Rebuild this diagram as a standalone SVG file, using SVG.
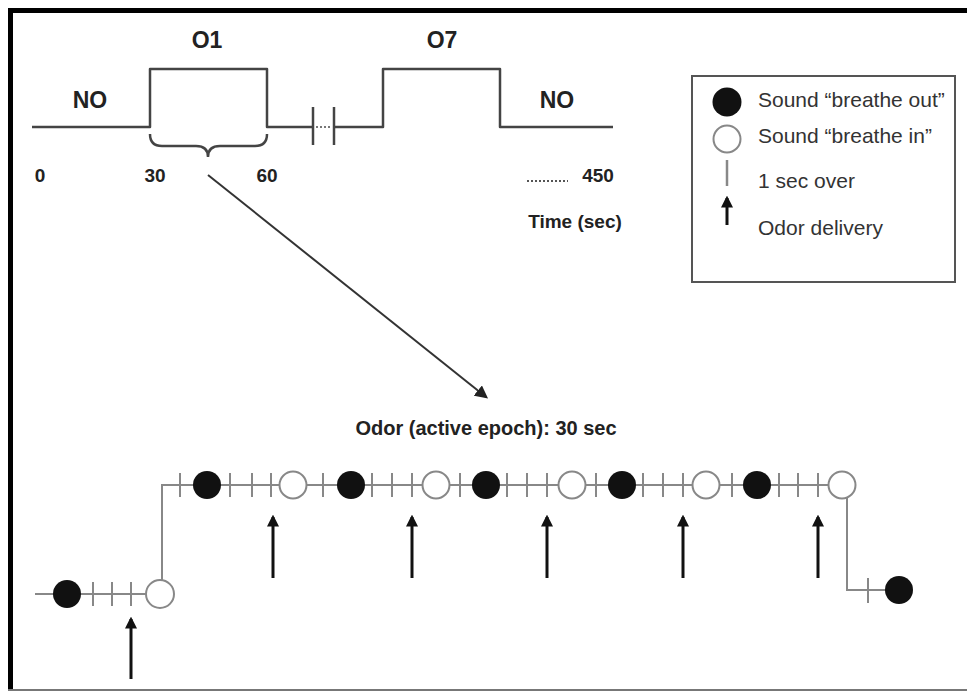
<svg xmlns="http://www.w3.org/2000/svg" width="967" height="692" viewBox="0 0 967 692">
<style>
.bold{font-family:"Liberation Sans",Arial,sans-serif;font-weight:bold;fill:#222}
.reg{font-family:"Liberation Sans",Arial,sans-serif;fill:#333;font-size:21px}
.tl{fill:none;stroke:#444;stroke-width:2.5;stroke-linejoin:round}
.row{fill:none;stroke:#888;stroke-width:2}
.tick{stroke:#888;stroke-width:2}
.fc{fill:#111}
.oc{fill:#fff;stroke:#888;stroke-width:2}
.arr{stroke:#111;stroke-width:3;marker-end:url(#ah)}
</style>
<defs>
<marker id="ah" viewBox="0 0 10 10" refX="8" refY="5" markerWidth="4" markerHeight="4" orient="auto" markerUnits="strokeWidth">
<path d="M0,0 L10,5 L0,10 z" fill="#111"/>
</marker>
<marker id="ah2" viewBox="0 0 10 10" refX="8" refY="5" markerWidth="6.5" markerHeight="6.5" orient="auto" markerUnits="strokeWidth">
<path d="M0,0 L10,5 L0,10 z" fill="#222"/>
</marker>
</defs>
<rect x="0" y="0" width="967" height="692" fill="#fff"/>
<!-- frame -->
<line x1="10.5" y1="8" x2="10.5" y2="691" stroke="#000" stroke-width="5"/>
<line x1="8" y1="10.5" x2="967" y2="10.5" stroke="#000" stroke-width="5"/>
<line x1="8" y1="690" x2="967" y2="690" stroke="#777" stroke-width="2"/>

<!-- top timeline -->
<g id="timeline">
<path class="tl" d="M32,127 H150 V69 H267 V127 H313"/>
<path class="tl" d="M334,127 H383 V69 H500 V127 H613"/>
<line x1="313" y1="107" x2="313" y2="145" stroke="#444" stroke-width="2.5"/>
<line x1="334" y1="107" x2="334" y2="145" stroke="#444" stroke-width="2.5"/>
<line x1="316" y1="127" x2="331" y2="127" stroke="#777" stroke-width="2" stroke-dasharray="2,2"/>
<text class="bold" x="207" y="48" font-size="23" text-anchor="middle">O1</text>
<text class="bold" x="442" y="48" font-size="23" text-anchor="middle">O7</text>
<text class="bold" x="90" y="108" font-size="23" text-anchor="middle">NO</text>
<text class="bold" x="557" y="108" font-size="23" text-anchor="middle">NO</text>
<text class="bold" x="40" y="182" font-size="19" text-anchor="middle">0</text>
<text class="bold" x="155" y="182" font-size="19" text-anchor="middle">30</text>
<text class="bold" x="267" y="182" font-size="19" text-anchor="middle">60</text>
<line x1="527" y1="181" x2="568" y2="181" stroke="#555" stroke-width="2" stroke-dasharray="2,2"/>
<text class="bold" x="598" y="182" font-size="19" text-anchor="middle">450</text>
<text class="bold" x="575" y="228" font-size="19" text-anchor="middle">Time (sec)</text>
</g>

<g id="brace">
<path d="M150,134 Q150,146 162,146 H196 Q208,146 208,157 Q208,146 220,146 H255 Q267,146 267,134" fill="none" stroke="#444" stroke-width="2.5"/>
</g>

<g id="connectors">
<line x1="208" y1="175" x2="486" y2="397" stroke="#333" stroke-width="2" marker-end="url(#ah2)"/>
</g>

<!-- legend -->
<g id="legend">
<rect x="692" y="76" width="263" height="206" fill="#fff" stroke="#555" stroke-width="2"/>
<circle class="fc" cx="727" cy="102" r="14.5"/>
<circle cx="727" cy="139" r="13.5" fill="#fff" stroke="#888" stroke-width="2"/>
<line x1="727" y1="160" x2="727" y2="186" stroke="#888" stroke-width="2.5"/>
<line x1="727" y1="225" x2="727" y2="198" class="arr"/>
<text class="reg" x="758" y="107">Sound “breathe out”</text>
<text class="reg" x="758" y="143">Sound “breathe in”</text>
<text class="reg" x="758" y="188">1 sec over</text>
<text class="reg" x="758" y="235">Odor delivery</text>
</g>

<text class="bold" x="486" y="435" font-size="20" text-anchor="middle">Odor (active epoch): 30 sec</text>

<!-- lower sequence -->
<g id="sequence">
<path class="row" d="M35,594 H160"/>
<path class="row" d="M162,594 V485 H842"/>
<path class="row" d="M847,485 V590 H899"/>
<g class="ticks">
<line class="tick" x1="93" y1="582" x2="93" y2="606"/>
<line class="tick" x1="112" y1="582" x2="112" y2="606"/>
<line class="tick" x1="131" y1="582" x2="131" y2="606"/>
<line class="tick" x1="180" y1="473" x2="180" y2="497"/>
<line class="tick" x1="230" y1="473" x2="230" y2="497"/>
<line class="tick" x1="252" y1="473" x2="252" y2="497"/>
<line class="tick" x1="271" y1="473" x2="271" y2="497"/>
<line class="tick" x1="323" y1="473" x2="323" y2="497"/>
<line class="tick" x1="372" y1="473" x2="372" y2="497"/>
<line class="tick" x1="392" y1="473" x2="392" y2="497"/>
<line class="tick" x1="412" y1="473" x2="412" y2="497"/>
<line class="tick" x1="460" y1="473" x2="460" y2="497"/>
<line class="tick" x1="507" y1="473" x2="507" y2="497"/>
<line class="tick" x1="527" y1="473" x2="527" y2="497"/>
<line class="tick" x1="547" y1="473" x2="547" y2="497"/>
<line class="tick" x1="596" y1="473" x2="596" y2="497"/>
<line class="tick" x1="643" y1="473" x2="643" y2="497"/>
<line class="tick" x1="663" y1="473" x2="663" y2="497"/>
<line class="tick" x1="683" y1="473" x2="683" y2="497"/>
<line class="tick" x1="732" y1="473" x2="732" y2="497"/>
<line class="tick" x1="779" y1="473" x2="779" y2="497"/>
<line class="tick" x1="798" y1="473" x2="798" y2="497"/>
<line class="tick" x1="818" y1="473" x2="818" y2="497"/>
<line class="tick" x1="868" y1="578" x2="868" y2="603"/>
</g>
<circle class="fc" cx="67" cy="594" r="14"/>
<circle class="oc" cx="160" cy="594" r="14"/>
<circle class="fc" cx="207" cy="485" r="14"/>
<circle class="oc" cx="293" cy="485" r="13.5"/>
<circle class="fc" cx="351" cy="485" r="14"/>
<circle class="oc" cx="436" cy="485" r="13.5"/>
<circle class="fc" cx="486" cy="485" r="14"/>
<circle class="oc" cx="572" cy="485" r="13.5"/>
<circle class="fc" cx="622" cy="485" r="14"/>
<circle class="oc" cx="706" cy="485" r="13.5"/>
<circle class="fc" cx="757" cy="485" r="14"/>
<circle class="oc" cx="842" cy="485" r="13.5"/>
<circle class="fc" cx="899" cy="590" r="14"/>
</g>

<g id="odor-arrows">
<line class="arr" x1="131" y1="679" x2="131" y2="619"/>
<line class="arr" x1="273" y1="578" x2="273" y2="517"/>
<line class="arr" x1="412" y1="578" x2="412" y2="517"/>
<line class="arr" x1="547" y1="578" x2="547" y2="517"/>
<line class="arr" x1="683" y1="578" x2="683" y2="517"/>
<line class="arr" x1="818" y1="578" x2="818" y2="517"/>
</g>
</svg>
